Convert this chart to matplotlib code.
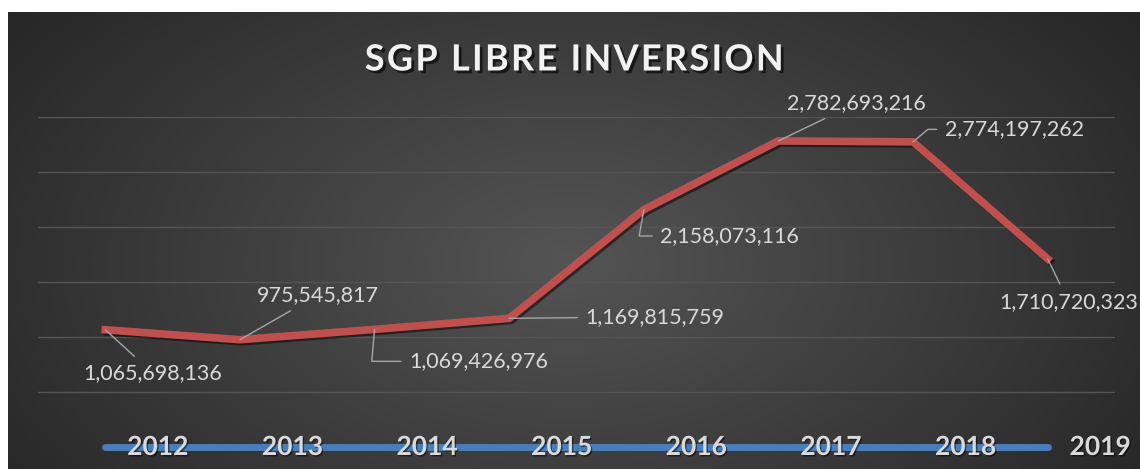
import numpy as np
import matplotlib
matplotlib.use("Agg")
import matplotlib.pyplot as plt
import matplotlib.patheffects as pe

# data
years = ["2012", "2013", "2014", "2015", "2016", "2017", "2018", "2019"]
values = [1065698136, 975545817, 1069426976, 1169815759,
          2158073116, 2782693216, 2774197262, 1710720323]
# label offsets in points (dx, dy) from each point, and leader style
label_dx = [34, 56, 25, 55, 12, 56, 23, 15]
label_dy = [-31, 32, -23, 1, -19, 27, 9, -31]
label_ha = ["center", "center", "left", "left", "left", "center", "left", "center"]
leader = ["arc3", "arc3", "angle,angleA=0,angleB=85,rad=0", "arc3",
          "angle,angleA=0,angleB=80,rad=0", "arc3", "angle,angleA=0,angleB=40,rad=0", "arc3"]

W, H = 1140, 469
fig = plt.figure(figsize=(W / 100, H / 100), dpi=100)
fig.patch.set_facecolor("white")

# radial gradient background
bg = fig.add_axes([8 / W, 0, (W - 8) / W, (H - 12) / H])
yy, xx = np.mgrid[0:457, 0:1132]
r = np.sqrt(((xx - 560) / 700.0) ** 2 + ((yy - 250) / 420.0) ** 2)
r = np.clip(r, 0, 1)
c0, c1 = 0.33, 0.15
img = c0 + (c1 - c0) * r
bg.imshow(np.dstack([img, img, img]), aspect="auto", extent=[0, 1, 0, 1])
bg.axis("off")

ax = fig.add_axes([38 / W, (H - 447) / H, 1077 / W, 330 / H])
ax.patch.set_alpha(0)
x = np.arange(len(years))
ax.set_xlim(-0.5, 7.5)
ax.set_ylim(0, 3e9)
ax.set_yticks(np.arange(500e6, 3.01e9, 500e6))
ax.yaxis.grid(True, color="#555555", lw=1)
ax.tick_params(left=False, bottom=False, labelleft=False, labelbottom=False)
for s in ax.spines.values():
    s.set_visible(False)

# axis series (blue)
ax.plot(x, np.zeros(len(x)), color="#4a7ebb", lw=5, solid_capstyle="round",
        clip_on=False, zorder=3)

# main series
ax.plot(x, values, color="#c0504d", lw=5.5, solid_joinstyle="miter", zorder=4,
        path_effects=[pe.SimpleLineShadow(offset=(1.5, -1.5), shadow_color="black", alpha=0.5),
                      pe.Normal()])

lab_font = dict(family=["Lato", "DejaVu Sans"], fontsize=15.5, color="#d9d9d9")
for i, v in enumerate(values):
    ax.annotate(f"{v:,}", xy=(i, v), xytext=(label_dx[i], label_dy[i]),
                textcoords="offset points", ha=label_ha[i], va="center",
                arrowprops=dict(arrowstyle="-", color="#a6a6a6", lw=1,
                                shrinkA=4, shrinkB=0, connectionstyle=leader[i]),
                zorder=5, **lab_font)

for i, yr in enumerate(years):
    ax.text(i + 0.39, 0, yr, ha="center", va="center", fontsize=19, fontweight="bold",
            color="#d9d9d9", family=["Lato", "DejaVu Sans"], zorder=6, clip_on=False,
            path_effects=[pe.withSimplePatchShadow(offset=(1, -1), shadow_rgbFace="black", alpha=0.5)])

title = "\u200a".join("SGP LIBRE INVERSION")
fig.text(574 / W, 1 - 60 / H, title, ha="center", va="center",
         fontsize=26, fontweight="bold", color="#f2f2f2", family=["Lato", "DejaVu Sans"],
         path_effects=[pe.withSimplePatchShadow(offset=(2, -2), shadow_rgbFace="black", alpha=0.6)])

fig.savefig("out.png", dpi=100, facecolor=fig.get_facecolor())
